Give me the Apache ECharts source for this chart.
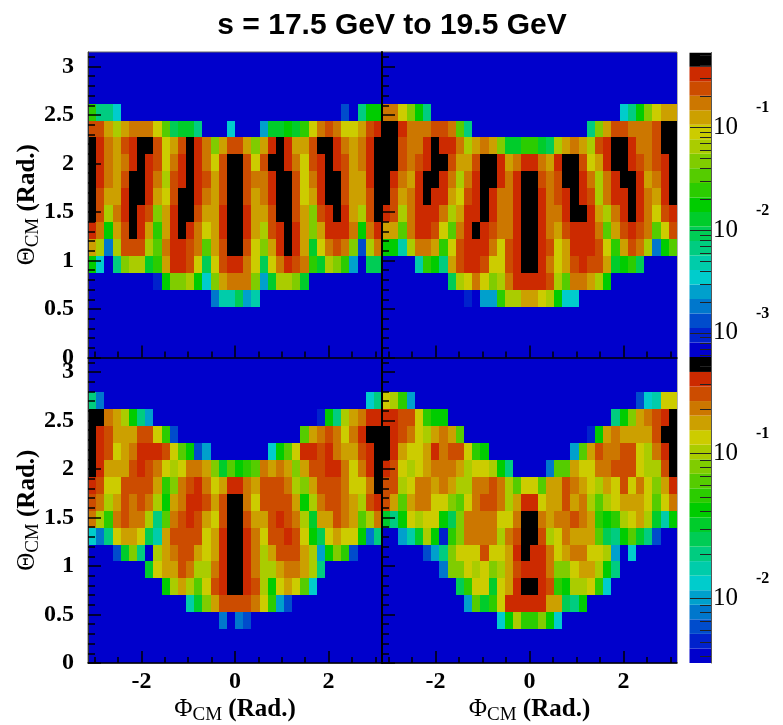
<!DOCTYPE html>
<html><head><meta charset="utf-8">
<style>html,body{margin:0;padding:0;background:#fff}#c{width:783px;height:725px}</style>
<script src="https://cdn.jsdelivr.net/npm/echarts@6/dist/echarts.min.js"></script>
</head><body><div id="c"></div>
<script>
const z = n => Array(n).fill(0);
// Each cell holds a colour-bin level: 0 = lowest bin (blue) ... 19 = red, 20 = above scale (black).
// Rows run from theta bin 0 (bottom) upward; columns are 10 degree phi bins from -pi. Short rows are padded with 0.
const panelTopLeft = [[],[],[],
[...z(15),3,6,6,8,4,6],
[...z(8),1,10,13,13,14,10,5,13,16,17,17,17,13,4,9,14,14,13,9],
[10,5,0,7,13,14,14,9,11,16,19,19,18,15,8,15,18,19,19,17,15,8,15,17,19,18,17,11,9,14,13,11,4,0,8,8],
[16,14,3,14,18,18,18,14,12,17,19,19,18,17,12,16,18,20,20,18,15,13,16,19,20,19,16,9,15,17,18,17,13,2,14,17],
[19,17,10,16,18,20,19,16,11,16,19,20,19,17,15,16,19,20,20,19,16,14,18,19,20,19,16,13,16,19,19,19,17,10,17,19],
[20,18,14,17,19,20,19,18,13,16,19,20,20,18,16,16,19,20,20,19,16,16,18,20,20,18,16,13,18,19,20,19,16,14,18,20],
[20,18,16,16,19,20,20,19,16,15,18,20,20,19,17,16,18,20,20,18,16,17,19,20,20,18,15,16,19,20,20,18,16,16,18,20],
[20,19,17,16,18,20,20,19,17,14,18,19,20,19,18,16,18,20,20,18,17,17,19,20,20,18,15,17,19,20,20,18,16,16,19,20],
[20,19,17,16,17,19,20,19,18,15,17,19,20,19,17,15,18,20,20,18,15,18,20,20,19,17,15,18,19,20,19,18,16,17,19,20],
[20,19,17,16,18,19,20,20,18,15,16,18,20,19,17,13,16,18,18,16,13,16,19,20,19,16,16,18,20,20,19,17,16,17,19,20],
[18,18,16,14,16,17,17,17,15,12,8,9,9,7,0,0,0,5,0,0,0,4,9,9,10,9,11,15,17,18,17,15,15,16,18,19],
[11,7,7,5,...z(27),2,0,7,10,10],
[],[],[]];
const panelTopRight = [[],[],[],
[...z(10),1,0,4,4,11,14,14,16,16,15,14,10,5,5],
[...z(8),8,14,15,17,15,13,14,17,19,19,19,19,18,14,12,17,17,16,14,10],
[...z(4),6,11,10,7,16,18,19,19,18,15,15,18,19,20,20,19,17,15,16,18,19,18,18,16,9,10,11,8],
[10,10,6,14,17,17,16,11,15,18,19,19,19,17,15,18,19,20,20,19,18,15,16,19,19,19,18,15,11,16,18,17,14,3,10,12],
[16,16,12,17,19,19,18,15,12,17,19,20,19,18,17,17,19,20,20,19,17,16,18,19,19,19,17,12,16,18,19,18,17,12,15,18],
[19,18,14,17,19,19,19,17,14,16,19,19,20,19,17,17,19,20,20,19,17,17,19,20,20,19,16,14,17,19,20,19,17,15,18,19],
[20,18,16,17,19,20,19,19,16,15,18,19,20,19,17,17,19,20,20,19,17,18,19,20,19,18,14,17,19,19,20,19,17,16,19,20],
[20,19,17,16,19,20,20,19,17,14,17,19,20,20,19,17,19,20,20,18,17,18,20,20,19,17,14,17,19,20,20,19,16,17,19,20],
[20,20,18,17,18,19,20,20,18,16,16,18,20,20,19,16,17,19,19,17,16,19,20,20,18,15,16,19,20,20,19,18,17,18,19,20],
[20,20,18,17,17,19,20,19,19,17,14,16,17,16,13,9,9,11,11,9,8,14,16,17,16,14,18,19,20,20,19,17,17,18,20,20],
[20,20,19,17,17,17,18,18,17,12,7,...z(14),7,13,16,18,18,17,17,17,18,20,20],
[17,17,15,13,10,7,...z(23),5,7,10,13,15,16,16],
[],[],[]];
const panelBottomLeft = [[],[],
[...z(16),3,0,3,2],
[...z(12),6,9,13,16,18,18,18,18,17,15,11,4,2],
[...z(9),10,14,16,14,12,15,18,19,20,20,19,18,14,10,15,16,15,12,5],
[...z(7),9,15,16,16,18,17,14,14,17,19,20,20,19,17,14,14,16,17,17,16,14,7],
[...z(3),2,9,13,7,0,14,16,17,18,18,16,15,16,19,20,20,19,17,14,16,18,18,18,16,14,4,10,13,11,2],
[5,3,7,15,16,16,15,8,6,16,18,18,18,18,15,16,19,20,20,19,17,15,18,18,19,18,15,10,8,15,16,15,15,10,3,7],
[17,14,11,17,18,17,17,14,7,12,17,18,19,18,16,15,18,20,20,18,16,16,18,19,18,17,14,9,16,16,18,17,16,12,14,17],
[18,17,14,16,18,17,18,17,14,10,16,17,19,19,18,16,18,20,20,17,15,18,18,18,18,16,10,14,17,18,18,17,16,14,18,19],
[19,18,15,15,18,18,18,18,16,11,13,17,18,19,17,15,16,19,19,17,16,18,18,18,17,14,13,16,18,18,18,17,15,15,17,20],
[20,19,16,16,16,18,19,18,17,15,14,15,17,17,16,13,9,12,10,11,12,17,16,17,16,13,16,18,18,19,19,17,15,17,19,20],
[20,19,18,15,16,17,19,19,19,18,15,12,10,2,4,...z(7),5,10,12,15,19,19,18,19,17,16,16,18,19,20],
[20,19,18,16,16,16,18,18,15,11,2,...z(15),12,16,17,18,17,15,17,19,20,20],
[20,20,17,16,14,10,7,4,...z(20),1,10,7,14,16,17,19,19],
[7,3,...z(32),5,7],
[],[]];
const panelBottomRight = [[],[],
[...z(14),5,10,14,11,11,13,10,5],
[...z(10),4,12,9,11,15,19,19,19,19,19,16,16,8,7,10],
[...z(9),8,11,15,15,9,15,16,19,20,20,19,18,11,10,14,14,15,11,5],
[...z(7),3,13,13,15,14,15,13,14,16,18,19,19,19,17,13,13,15,16,16,14,10,7],
[...z(5),2,4,7,13,15,15,15,18,15,15,16,19,20,19,19,17,15,16,17,17,15,15,14,4,0,5],
[...z(2),4,6,9,14,10,1,11,13,17,17,17,17,14,17,18,20,20,18,14,15,17,16,16,16,12,8,7,10,12,9,7,2],
[9,7,10,15,14,15,15,10,8,13,17,17,17,17,15,15,17,20,20,17,16,17,17,18,17,16,11,10,11,14,15,16,14,9,6,10],
[18,16,12,16,17,17,15,15,13,12,15,17,18,18,17,14,16,19,19,15,16,16,18,16,17,14,12,14,15,16,16,16,15,12,15,17],
[18,18,14,15,17,17,16,17,16,14,14,17,17,18,17,14,12,15,15,12,16,16,18,17,16,15,14,16,15,18,15,17,15,13,16,19],
[19,18,15,14,15,16,17,17,17,16,14,15,15,14,10,7,...z(4),3,12,12,16,15,15,17,17,18,18,18,15,14,14,18,20],
[20,19,16,15,15,16,19,17,18,18,15,11,10,...z(10),4,12,16,18,17,17,18,18,15,14,17,19,20],
[20,19,18,17,15,14,16,17,16,12,...z(15),1,10,16,17,16,16,16,16,18,20,20],
[19,19,18,18,15,11,10,10,...z(20),7,10,13,16,17,18,19,20],
[15,14,11,4,...z(27),2,5,6,15,15],
[],[]];

const palette = ['#0000cc','#0022cc','#004ccc','#0077cc','#00a0cc','#00cccc','#00ccaa','#00cc80','#00cc55','#00cc2b','#00cc00','#2bcc00','#55cc00','#80cc00','#aacc00','#cccc00','#cca000','#cc7700','#cc4c00','#cc2a00','#000000'];
const xMajorTicks = [-2,0,2];
const xMinorTicks = [-3,-2.5,-1.5,-1,-0.5,0.5,1,1.5,2.5,3];
const yMajorTicks = [0,0.5,1,1.5,2,2.5,3];
const yMinorTicks = [0.1,0.2,0.3,0.4,0.6,0.7,0.8,0.9,1.1,1.2,1.3,1.4,1.6,1.7,1.8,1.9,2.1,2.2,2.3,2.4,2.6,2.7,2.8,2.9,3.1];
const barTopLog = {min:-3.234, black:-0.413, max:-0.274, decades:[-3,-2,-1]};
const barBottomLog = {min:-2.446, black:-0.439, max:-0.336, decades:[-2,-1]};

const PI = Math.PI, BIN = PI/18;
const serif = '"Liberation Serif", serif';
const frames = [
 {rect:[88,52,294,305.5], rows:panelTopLeft, yLab:true, xLab:false},
 {rect:[382,52,295,305.5], rows:panelTopRight, yLab:false, xLab:false},
 {rect:[88,357.5,294,305.5], rows:panelBottomLeft, yLab:true, xLab:true},
 {rect:[382,357.5,295,305.5], rows:panelBottomRight, yLab:false, xLab:true},
];
const grid=[], xAxis=[], yAxis=[], series=[];
const phiName = '{p|\u03A6}{s|CM}{m| (Rad.)}', thetaName = '{p|\u0398}{s|CM}{m| (Rad.)}';
const nameRich = () => ({m:{fontFamily:serif,fontSize:25,fontWeight:'bold',color:'#000'},
  p:{fontFamily:serif,fontSize:25,color:'#000'},
  s:{fontFamily:serif,fontSize:19,color:'#000',padding:[12,0,0,0]}});
function cellItem(api){
  const p=api.value(0), t=api.value(1);
  const a=api.coord([p-BIN/2,t+BIN/2]), b=api.coord([p+BIN/2,t-BIN/2]);
  const x=Math.round(a[0]), y=Math.round(a[1]);
  return {type:'rect',shape:{x,y,width:Math.round(b[0])-x,height:Math.round(b[1])-y},
    style:{fill:palette[api.value(2)]}};
}
frames.forEach((f,i)=>{
  grid.push({left:f.rect[0],top:f.rect[1],width:f.rect[2],height:f.rect[3],outerBoundsMode:'none',show:true,backgroundColor:palette[0],borderColor:'#666',borderWidth:1});
  const xi=xAxis.length, yi=yAxis.length;
  xAxis.push({type:'value',gridIndex:i,min:-PI,max:PI,position:'bottom',z:10,
    name:f.xLab?phiName:'',nameLocation:'middle',nameGap:31,nameTextStyle:{rich:nameRich()},
    splitLine:{show:false},axisLine:{show:true,onZero:false,lineStyle:{color:'#000',width:1.5}},
    axisTick:{show:true,inside:true,length:12,customValues:xMajorTicks,lineStyle:{color:'#000',width:1.5}},
    axisLabel:{show:f.xLab,customValues:xMajorTicks,fontFamily:serif,fontSize:24,fontWeight:'bold',color:'#000',margin:7,formatter:v=>String(v)}});
  xAxis.push({type:'value',gridIndex:i,min:-PI,max:PI,position:'bottom',z:10,
    splitLine:{show:false},axisLine:{show:false,onZero:false},axisLabel:{show:false},
    axisTick:{show:true,inside:true,length:6,customValues:xMinorTicks,lineStyle:{color:'#000',width:1.5}}});
  yAxis.push({type:'value',gridIndex:i,min:0,max:3.15,position:'left',z:10,
    name:f.yLab?thetaName:'',nameLocation:'middle',nameGap:45,nameMoveOverlap:false,nameRotate:90,nameTextStyle:{rich:nameRich()},
    splitLine:{show:false},axisLine:{show:true,onZero:false,lineStyle:{color:f.yLab?'#333':'#000',width:f.yLab?1:2}},
    axisTick:{show:true,inside:true,length:13,customValues:yMajorTicks,lineStyle:{color:'#000',width:1.5}},
    axisLabel:{show:f.yLab,customValues:yMajorTicks,fontFamily:serif,fontSize:24,fontWeight:'bold',color:'#000',margin:14,formatter:v=>String(v)}});
  yAxis.push({type:'value',gridIndex:i,min:0,max:3.15,position:'left',z:10,
    splitLine:{show:false},axisLine:{show:false,onZero:false},axisLabel:{show:false},
    axisTick:{show:true,inside:true,length:7,customValues:yMinorTicks,lineStyle:{color:'#000',width:1.5}}});
  const data=[];
  for(let r=0;r<18;r++) for(let c=0;c<36;c++){
    const lv=(f.rows[r]||[])[c]||0;
    data.push([-PI+(c+0.5)*BIN,(r+0.5)*BIN,lv]);
  }
  series.push({type:'custom',xAxisIndex:xi,yAxisIndex:yi,renderItem:(p,api)=>cellItem(api),data,encode:{x:0,y:1},clip:false,animation:false,silent:true});
});
function addBar(idx,top,height,b){
  grid.push({left:689.5,top,width:21.5,height,outerBoundsMode:'none',show:false});
  const xi=xAxis.length, yi=yAxis.length;
  xAxis.push({type:'value',gridIndex:idx,min:0,max:1,show:false});
  const major=b.decades, minor=[];
  const steps=[2,3,4,5,6,7,8,9];
  b.decades.concat([b.decades[0]-1]).forEach(d=>steps.forEach(s=>{const v=d+Math.log10(s); if(v>b.min&&v<b.max) minor.push(v);}));
  const base={type:'value',gridIndex:idx,min:b.min,max:b.max,position:'right',z:10,splitLine:{show:false}};
  yAxis.push({...base,axisLine:{show:true,onZero:false,lineStyle:{color:'#555',width:1}},
    axisTick:{show:true,inside:true,length:21,customValues:major,lineStyle:{color:'#222',width:1}},
    axisLabel:{show:true,customValues:major,fontFamily:serif,fontSize:25,color:'#000',margin:2,formatter:()=>'10'}});
  yAxis.push({...base,axisLine:{show:false,onZero:false},axisLabel:{show:false},
    axisTick:{show:true,inside:true,length:11,customValues:minor,lineStyle:{color:'#222',width:1}}});
  const shift=19/(height/(b.max-b.min));
  yAxis.push({...base,axisLine:{show:false,onZero:false},axisTick:{show:false},
    axisLabel:{show:true,customValues:major.map(v=>v+shift),fontFamily:serif,fontSize:16,fontWeight:'bold',color:'#000',margin:45,
      formatter:v=>String(Math.round(v-shift))}});
  const step=(b.black-b.min)/20, data=[];
  for(let i=0;i<20;i++) data.push([b.min+i*step,b.min+(i+1)*step,i]);
  data.push([b.black,b.max,20]);
  series.push({type:'custom',xAxisIndex:xi,yAxisIndex:yi,animation:false,silent:true,clip:true,data,encode:{y:[0,1]},
    renderItem:(p,api)=>{
      const a=api.coord([0,api.value(1)]), c=api.coord([1,api.value(0)]);
      return {type:'rect',shape:{x:a[0],y:a[1],width:c[0]-a[0],height:c[1]-a[1]},style:{fill:palette[api.value(2)]}};
    }});
}
addBar(4,52.5,304.5,barTopLog);
addBar(5,357,306,barBottomLog);

const chart=echarts.init(document.getElementById('c'),null,{renderer:'canvas'});
chart.setOption({animation:false,backgroundColor:'#fff',
  title:{text:'s = 17.5 GeV to 19.5 GeV',left:387,top:6,textAlign:'center',
    textStyle:{fontFamily:'"Liberation Sans", sans-serif',fontWeight:'bold',fontSize:30,color:'#000'}},
  grid,xAxis,yAxis,series});
</script></body></html>
